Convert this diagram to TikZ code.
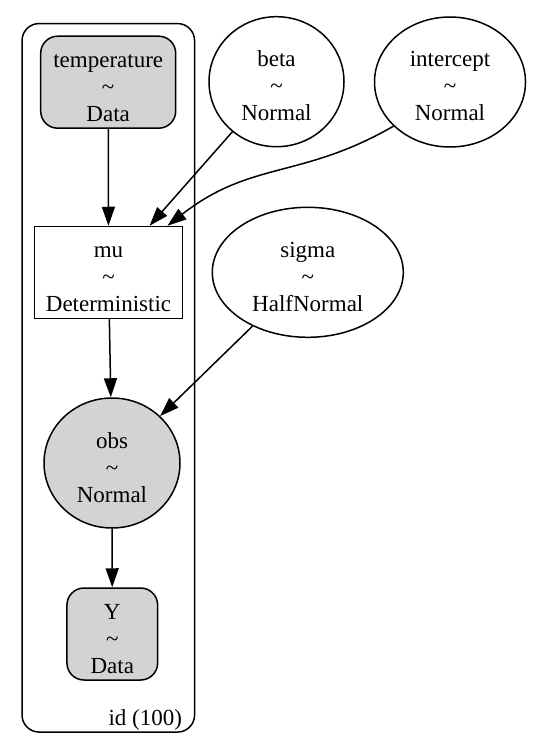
\documentclass[tikz,border=0pt]{standalone}
\usepackage{fontspec}
\setmainfont{Liberation Serif}
\usetikzlibrary{shapes.geometric,arrows.meta}
\definecolor{datagrey}{RGB}{211,211,211}
\newcommand{\topvs}{\rule{0pt}{27pt}}
\newcommand{\botvs}{\rule[-3pt]{0pt}{3pt}}
\newcommand{\dist}[2]{\topvs#1\\\textasciitilde\\#2\botvs}

\begin{document}
\begin{tikzpicture}[x=1pt, y=-1pt,
        line width=1.5pt,
        font=\fontsize{23}{27}\selectfont,
        var/.style={align=center, inner sep=0pt},
        datanode/.style={var, rectangle, rounded corners=17pt, draw, fill=datagrey, minimum height=92pt},
        freenode/.style={var, ellipse, draw, minimum height=130pt},
        detnode/.style={var, rectangle, draw, minimum width=148pt, minimum height=92pt},
        obsnode/.style={var, ellipse, draw, fill=datagrey, minimum width=136pt, minimum height=130pt},
        edge/.style={-{Triangle[length=19pt, width=13pt]}}]
        \fill[white] (0,0) rectangle (533,746);
        \useasboundingbox (0,0) rectangle (533,746);

        % Plate
        \node[draw, rounded corners=17pt, inner sep=0pt, minimum width=172.5pt, minimum height=708.5pt] (plate) at (108.3,377.8) {};
        \node[anchor=base east, inner sep=0pt] (platelabel) at ([xshift=-12.5pt, yshift=7pt]plate.south east) {id (100)};

        % Draw nodes
        \node[datanode, minimum width=135pt] (temperature) at (108.2,82.2) {\dist{temperature}{Data}};
        \node[freenode, minimum width=135pt] (beta) at (276.5,81.7) {\dist{beta}{Normal}};
        \node[freenode, minimum width=151pt] (intercept) at (450,82) {\dist{intercept}{Normal}};
        \node[detnode] (mu) at (108.5,272.5) {\dist{mu}{Deterministic}};
        \node[freenode, minimum width=191pt] (sigma) at (307.8,272.3) {\dist{sigma}{HalfNormal}};
        \node[obsnode] (obs) at (112,463) {\dist{obs}{Normal}};
        \node[datanode, minimum width=90.7pt] (Y) at (112.3,634) {\dist{Y}{Data}};

        % Draw connections
        \draw[edge] (temperature) -- (mu);
        \draw[edge] (beta) -- (mu);
        \draw[edge] (intercept.218) to[out=210, in=38, looseness=1.1] ([xshift=59pt]mu.north);
        \draw[edge] (mu) -- (obs);
        \draw[edge] (sigma) -- (obs);
        \draw[edge] (obs) -- (Y);
\end{tikzpicture}
\end{document}
